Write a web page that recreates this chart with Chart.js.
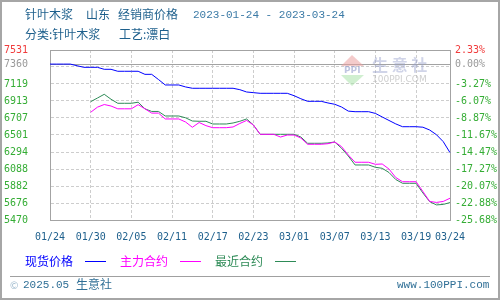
<!DOCTYPE html>
<html>
<head>
<meta charset="utf-8">
<script src="https://cdn.jsdelivr.net/npm/chart.js@4.4.1/dist/chart.umd.min.js"></script>
<style>
  html, body { margin: 0; padding: 0; background: #fff; }
  #wrap { position: relative; width: 500px; height: 300px; overflow: hidden; font-family: "Noto Sans CJK SC", sans-serif; }
  #chart { position: absolute; left: 0; top: 0; }
  #frame { position: absolute; left: 0; top: 0; width: 500px; height: 300px; box-sizing: border-box; border: 2px solid #a6a6a6; pointer-events: none; }
  .t { position: absolute; white-space: nowrap; font-size: 12px; line-height: 12px; }
  .mono { font-family: "Liberation Mono", monospace; font-size: 11px; }
  .ttl { color: #1d5f8c; }
  .date { color: #3b7aa6; }
  .leg { position: absolute; height: 1px; }
  #sep { position: absolute; left: 10px; top: 276px; width: 480px; height: 1px; background: #a0a0a0; }
  .foot { color: #2f6f96; }
</style>
</head>
<body>
<div id="wrap">
  <canvas id="chart" width="500" height="300"></canvas>

  <span class="t ttl" style="left:25px; top:8px;">针叶木浆</span>
  <span class="t ttl" style="left:86px; top:8px;">山东</span>
  <span class="t ttl" style="left:118px; top:8px;">经销商价格</span>
  <span class="t mono date" style="left:193px; top:9px;">2023-01-24 - 2023-03-24</span>
  <span class="t ttl" style="left:25px; top:28px;">分类:针叶木浆</span>
  <span class="t ttl" style="left:119px; top:28px;">工艺:漂白</span>

  <span class="t" style="left:25px; top:255px; color:#0000ff;">现货价格</span>
  <div class="leg" style="left:85px; top:261px; width:21px; background:#0000ff;"></div>
  <span class="t" style="left:120px; top:255px; color:#ff00ff;">主力合约</span>
  <div class="leg" style="left:180px; top:261px; width:21px; background:#ff00ff;"></div>
  <span class="t" style="left:215px; top:255px; color:#2e8b57;">最近合约</span>
  <div class="leg" style="left:275px; top:261px; width:21px; background:#2e8b57;"></div>

  <div id="sep"></div>
  <span class="t" style="left:10px; top:279px; color:#9bb8cc; font-size:10px;">©</span>
  <span class="t mono foot" style="left:23px; top:279px;">2025.05</span>
  <span class="t foot" style="left:76px; top:278px;">生意社</span>
  <span class="t mono foot" style="left:397px; top:279px;">www.100PPI.com</span>

  <div id="frame"></div>
</div>

<script>
// 日期（每日）
const dates = [
  '01/24','01/25','01/26','01/27','01/28','01/29','01/30','01/31',
  '02/01','02/02','02/03','02/04','02/05','02/06','02/07','02/08','02/09','02/10',
  '02/11','02/12','02/13','02/14','02/15','02/16','02/17','02/18','02/19','02/20',
  '02/21','02/22','02/23','02/24','02/25','02/26','02/27','02/28',
  '03/01','03/02','03/03','03/04','03/05','03/06','03/07','03/08','03/09','03/10',
  '03/11','03/12','03/13','03/14','03/15','03/16','03/17','03/18','03/19','03/20',
  '03/21','03/22','03/23','03/24'
];

// 现货价格
const spotPrice = [
  7360, 7360, 7360, 7360, 7340, 7321, 7321, 7321, 7297, 7297,
  7273, 7273, 7273, 7273, 7236, 7236, 7173, 7107, 7107, 7107,
  7083, 7067, 7067, 7067, 7067, 7067, 7067, 7067, 7050, 7022,
  7014, 7006, 7006, 7006, 7006, 7006, 6977, 6940, 6909, 6909,
  6909, 6889, 6873, 6840, 6790, 6783, 6783, 6783, 6762, 6719,
  6677, 6635, 6601, 6601, 6601, 6595, 6561, 6504, 6420, 6287
];

// 主力合约
const mainContract = [
  null, null, null, null, null, null, 6776, 6838, 6870, 6852,
  6818, 6818, 6818, 6868, 6818, 6766, 6766, 6695, 6695, 6695,
  6658, 6594, 6652, 6614, 6589, 6589, 6589, 6598, 6640, 6677,
  6622, 6509, 6509, 6509, 6476, 6500, 6500, 6464, 6388, 6388,
  6388, 6395, 6416, 6360, 6258, 6170, 6170, 6170, 6145, 6149,
  6088, 5985, 5934, 5934, 5934, 5816, 5695, 5683, 5695, 5734
];

// 最近合约
const nearContract = [
  null, null, null, null, null, null, 6904, 6949, 6994, 6934,
  6885, 6885, 6885, 6898, 6818, 6786, 6786, 6731, 6731, 6731,
  6709, 6670, 6667, 6667, 6634, 6634, 6634, 6646, 6667, 6695,
  6622, 6509, 6509, 6509, 6509, 6509, 6509, 6476, 6400, 6400,
  6400, 6404, 6416, 6340, 6246, 6137, 6137, 6137, 6109, 6097,
  6046, 5961, 5915, 5915, 5915, 5798, 5693, 5653, 5659, 5681
];

// 纵轴刻度
const baseValue = 7360;
const yTicks = [5470, 5676, 5882, 6088, 6294, 6501, 6707, 6913, 7119, 7325, 7360, 7531];
const hiddenTick = 7325;
const pctLabels = ['-25.68%', '-22.88%', '-20.07%', '-17.27%', '-14.47%', '-11.67%',
                   '-8.87%', '-6.07%', '-3.27%', '', '0.00%', '2.33%'];
const xTickIdx = [0, 6, 12, 18, 24, 30, 36, 42, 48, 54, 59];

const yMin = yTicks[0];
const yMax = yTicks[yTicks.length - 1];
const frameGray = '#a3a3a3';
const gridGray = '#cdcdcd';

function tickColor(v) {
  if (v === yMax) return '#f03c3c';
  if (v === baseValue) return '#999999';
  return '#35ad35';
}
function yGridColor(ctx) {
  const v = ctx.tick && ctx.tick.value;
  if (v === yMax || v === baseValue || v === yMin) return frameGray;
  return gridGray;
}
function yGridDash(ctx) {
  const v = ctx.tick && ctx.tick.value;
  if (v === undefined || v === yMax || v === baseValue || v === yMin) return [];
  return [3, 2];
}

// 水印
const watermark = {
  id: 'watermark',
  beforeDatasetsDraw(chart) {
    const c = chart.ctx;
    c.save();
    c.fillStyle = 'rgba(235,160,160,0.55)';
    c.beginPath(); c.moveTo(352, 55); c.lineTo(364, 66); c.lineTo(341, 66); c.closePath(); c.fill();
    c.fillStyle = 'rgba(170,225,170,0.55)';
    c.beginPath(); c.moveTo(341, 75); c.lineTo(364, 75); c.lineTo(352, 86); c.closePath(); c.fill();
    c.fillStyle = 'rgba(140,150,200,0.55)';
    c.font = 'bold 9px "DejaVu Sans"';
    c.textBaseline = 'middle';
    c.fillText('PPI', 344, 71);
    c.fillStyle = 'rgba(150,160,205,0.45)';
    c.font = 'bold 16px "Noto Sans CJK SC"';
    c.fillText('生 意 社', 372, 65);
    c.fillStyle = 'rgba(185,185,185,0.7)';
    c.font = '9px "DejaVu Sans"';
    c.fillText('100PPI.COM', 372, 80);
    c.restore();
  }
};

new Chart(document.getElementById('chart'), {
  type: 'line',
  data: {
    labels: dates,
    datasets: [
      { label: '现货价格', data: spotPrice, borderColor: '#0000ff', borderWidth: 1, yAxisID: 'y' },
      { label: '主力合约', data: mainContract, borderColor: '#ff00ff', borderWidth: 1, yAxisID: 'y' },
      { label: '最近合约', data: nearContract, borderColor: '#2e8b57', borderWidth: 1, yAxisID: 'y' }
    ]
  },
  options: {
    responsive: false,
    animation: false,
    events: [],
    layout: { padding: { top: 50, bottom: 50, left: 0, right: 0 } },
    elements: { point: { radius: 0 }, line: { tension: 0 } },
    plugins: { legend: { display: false }, tooltip: { enabled: false } },
    scales: {
      x: {
        offset: false,
        afterFit: s => { s.height = 30; },
        afterBuildTicks: s => { s.ticks = xTickIdx.map(i => ({ value: i })); },
        grid: {
          drawTicks: false,
          color: ctx => (ctx.tick && (ctx.tick.value === 0 || ctx.tick.value === 59)) ? frameGray : gridGray
        },
        border: {
          color: frameGray, width: 1,
          dash: ctx => (ctx.tick && ctx.tick.value !== 0 && ctx.tick.value !== 59) ? [3, 2] : []
        },
        ticks: {
          autoSkip: false, maxRotation: 0, padding: 11,
          color: '#1d5f8c',
          font: { family: 'DejaVu Sans Mono', size: 10 }
        }
      },
      y: {
        position: 'left',
        min: yMin, max: yMax,
        afterFit: s => { s.width = 50; },
        afterBuildTicks: s => { s.ticks = yTicks.map(v => ({ value: v })); },
        grid: { drawTicks: false, color: yGridColor },
        border: { color: frameGray, width: 1, dash: yGridDash },
        ticks: {
          padding: 22,
          color: ctx => tickColor(ctx.tick.value),
          font: { family: 'DejaVu Sans Mono', size: 10 },
          callback: v => v === hiddenTick ? '' : String(v)
        }
      },
      y2: {
        position: 'right',
        min: yMin, max: yMax,
        afterFit: s => { s.width = 50; },
        afterBuildTicks: s => { s.ticks = yTicks.map(v => ({ value: v })); },
        grid: { display: false, drawTicks: false },
        border: { color: frameGray, width: 1 },
        ticks: {
          padding: 5,
          color: ctx => tickColor(ctx.tick.value),
          font: { family: 'DejaVu Sans Mono', size: 10 },
          callback: v => pctLabels[yTicks.indexOf(v)]
        }
      }
    }
  },
  plugins: [watermark]
});
</script>
</body>
</html>
